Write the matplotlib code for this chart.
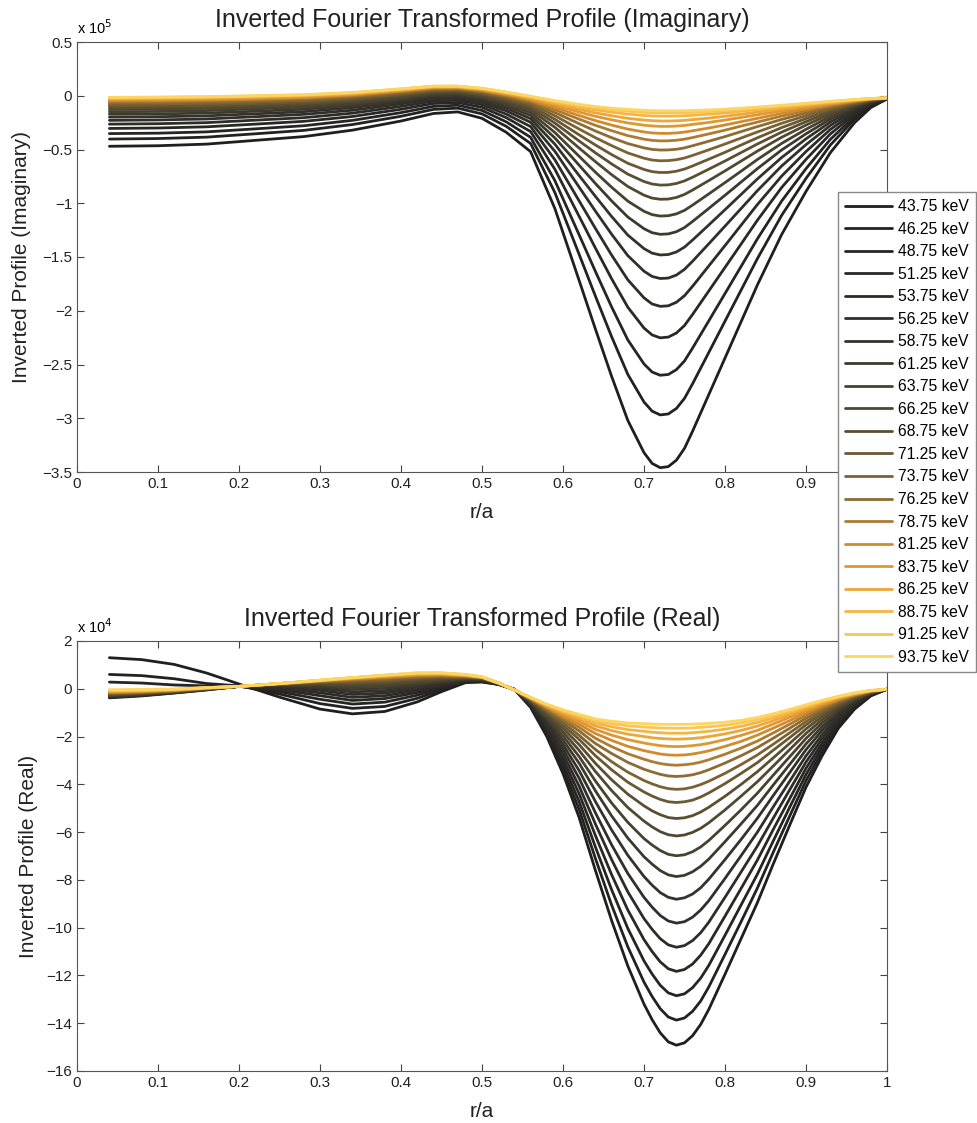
import numpy as np
import matplotlib
matplotlib.use("Agg")
import matplotlib.pyplot as plt
from matplotlib.colors import LinearSegmentedColormap

plt.rcParams['font.family'] = ['Liberation Sans', 'DejaVu Sans']

energy_labels = ["43.75 keV", "46.25 keV", "48.75 keV", "51.25 keV", "53.75 keV", "56.25 keV",
                 "58.75 keV", "61.25 keV", "63.75 keV", "66.25 keV", "68.75 keV", "71.25 keV",
                 "73.75 keV", "76.25 keV", "78.75 keV", "81.25 keV", "83.75 keV", "86.25 keV",
                 "88.75 keV", "91.25 keV", "93.75 keV"]

# ---------------- Imaginary part (units of 1e5) ----------------
r_imag = [0.04, 0.10, 0.16, 0.22, 0.28, 0.34, 0.40, 0.44, 0.47, 0.50, 0.53, 0.56, 0.59, 0.62,
          0.64, 0.66, 0.68, 0.70, 0.71, 0.72, 0.73, 0.74, 0.75, 0.76, 0.78, 0.80, 0.82, 0.84,
          0.87, 0.90, 0.93, 0.96, 0.98, 1.00]

imag_4375 = [-0.470, -0.465, -0.450, -0.415, -0.380, -0.320, -0.235, -0.165, -0.150, -0.210, -0.340, -0.520, -1.050, -1.720, -2.170, -2.610, -3.020, -3.320, -3.420, -3.460, -3.450, -3.390, -3.280, -3.120, -2.780, -2.440, -2.100, -1.760, -1.290, -0.890, -0.530, -0.250, -0.110, -0.030]
imag_4625 = [-0.403, -0.398, -0.385, -0.354, -0.322, -0.268, -0.191, -0.127, -0.115, -0.169, -0.285, -0.444, -0.901, -1.477, -1.864, -2.241, -2.592, -2.849, -2.934, -2.969, -2.960, -2.909, -2.815, -2.679, -2.388, -2.097, -1.806, -1.515, -1.112, -0.769, -0.459, -0.218, -0.097, -0.029]
imag_4875 = [-0.352, -0.348, -0.336, -0.308, -0.279, -0.229, -0.157, -0.099, -0.088, -0.137, -0.243, -0.387, -0.790, -1.295, -1.634, -1.964, -2.271, -2.495, -2.570, -2.600, -2.593, -2.548, -2.467, -2.347, -2.094, -1.840, -1.586, -1.331, -0.979, -0.678, -0.406, -0.194, -0.088, -0.027]
imag_5125 = [-0.304, -0.300, -0.289, -0.264, -0.238, -0.193, -0.126, -0.072, -0.063, -0.108, -0.204, -0.333, -0.684, -1.123, -1.417, -1.702, -1.967, -2.161, -2.225, -2.252, -2.245, -2.207, -2.137, -2.034, -1.816, -1.597, -1.378, -1.158, -0.853, -0.592, -0.356, -0.172, -0.079, -0.026]
imag_5375 = [-0.264, -0.260, -0.250, -0.227, -0.204, -0.162, -0.099, -0.050, -0.042, -0.083, -0.171, -0.287, -0.596, -0.979, -1.234, -1.482, -1.712, -1.880, -1.937, -1.959, -1.954, -1.921, -1.860, -1.772, -1.583, -1.394, -1.203, -1.012, -0.747, -0.519, -0.314, -0.153, -0.072, -0.026]
imag_5625 = [-0.229, -0.225, -0.216, -0.195, -0.173, -0.135, -0.076, -0.030, -0.023, -0.062, -0.141, -0.247, -0.517, -0.851, -1.073, -1.288, -1.487, -1.632, -1.681, -1.700, -1.696, -1.668, -1.615, -1.539, -1.377, -1.213, -1.048, -0.883, -0.653, -0.455, -0.277, -0.136, -0.065, -0.025]
imag_5875 = [-0.199, -0.195, -0.187, -0.168, -0.148, -0.111, -0.056, -0.013, -0.007, -0.043, -0.117, -0.213, -0.451, -0.743, -0.936, -1.123, -1.296, -1.422, -1.464, -1.481, -1.477, -1.453, -1.408, -1.342, -1.202, -1.060, -0.917, -0.774, -0.574, -0.401, -0.245, -0.122, -0.059, -0.024]
imag_6125 = [-0.172, -0.169, -0.161, -0.144, -0.125, -0.091, -0.039, 0.002, 0.007, -0.027, -0.095, -0.183, -0.393, -0.647, -0.816, -0.978, -1.128, -1.237, -1.274, -1.289, -1.285, -1.265, -1.226, -1.169, -1.048, -0.926, -0.802, -0.678, -0.504, -0.354, -0.217, -0.109, -0.054, -0.024]
imag_6375 = [-0.149, -0.146, -0.138, -0.122, -0.105, -0.073, -0.024, 0.015, 0.019, -0.013, -0.076, -0.157, -0.342, -0.564, -0.711, -0.851, -0.980, -1.075, -1.106, -1.119, -1.116, -1.099, -1.066, -1.017, -0.913, -0.808, -0.701, -0.593, -0.443, -0.312, -0.193, -0.098, -0.050, -0.023]
imag_6625 = [-0.128, -0.124, -0.118, -0.103, -0.087, -0.057, -0.009, 0.027, 0.031, 0.001, -0.058, -0.133, -0.294, -0.487, -0.613, -0.734, -0.844, -0.925, -0.952, -0.963, -0.961, -0.946, -0.918, -0.877, -0.789, -0.699, -0.607, -0.515, -0.386, -0.273, -0.171, -0.088, -0.046, -0.023]
imag_6875 = [-0.110, -0.106, -0.100, -0.086, -0.071, -0.043, 0.003, 0.037, 0.040, 0.012, -0.043, -0.112, -0.254, -0.421, -0.531, -0.634, -0.729, -0.798, -0.821, -0.831, -0.829, -0.816, -0.792, -0.758, -0.683, -0.607, -0.528, -0.449, -0.338, -0.241, -0.151, -0.080, -0.043, -0.022]
imag_7125 = [-0.094, -0.090, -0.085, -0.072, -0.058, -0.031, 0.013, 0.046, 0.049, 0.022, -0.030, -0.094, -0.219, -0.364, -0.458, -0.547, -0.628, -0.686, -0.706, -0.714, -0.713, -0.702, -0.682, -0.653, -0.590, -0.526, -0.458, -0.391, -0.296, -0.212, -0.135, -0.072, -0.040, -0.022]
imag_7375 = [-0.079, -0.075, -0.070, -0.058, -0.045, -0.019, 0.023, 0.054, 0.056, 0.031, -0.018, -0.077, -0.186, -0.310, -0.390, -0.464, -0.532, -0.581, -0.598, -0.605, -0.603, -0.595, -0.579, -0.555, -0.503, -0.449, -0.393, -0.337, -0.256, -0.185, -0.119, -0.065, -0.037, -0.021]
imag_7625 = [-0.065, -0.062, -0.057, -0.046, -0.033, -0.009, 0.032, 0.062, 0.064, 0.039, -0.006, -0.062, -0.156, -0.260, -0.328, -0.390, -0.445, -0.485, -0.499, -0.505, -0.504, -0.498, -0.485, -0.465, -0.423, -0.380, -0.333, -0.287, -0.220, -0.160, -0.105, -0.059, -0.034, -0.021]
imag_7875 = [-0.053, -0.050, -0.045, -0.035, -0.023, 0.001, 0.040, 0.069, 0.070, 0.046, 0.003, -0.048, -0.130, -0.218, -0.275, -0.325, -0.371, -0.404, -0.415, -0.420, -0.419, -0.414, -0.404, -0.389, -0.355, -0.320, -0.282, -0.245, -0.189, -0.139, -0.092, -0.053, -0.032, -0.021]
imag_8125 = [-0.044, -0.041, -0.036, -0.026, -0.015, 0.008, 0.046, 0.074, 0.075, 0.052, 0.011, -0.038, -0.109, -0.184, -0.231, -0.273, -0.310, -0.337, -0.346, -0.350, -0.350, -0.346, -0.338, -0.326, -0.300, -0.272, -0.241, -0.210, -0.164, -0.122, -0.082, -0.049, -0.030, -0.021]
imag_8375 = [-0.035, -0.032, -0.027, -0.018, -0.007, 0.015, 0.052, 0.079, 0.080, 0.058, 0.019, -0.028, -0.089, -0.152, -0.191, -0.224, -0.253, -0.274, -0.281, -0.285, -0.285, -0.282, -0.276, -0.267, -0.248, -0.226, -0.202, -0.177, -0.141, -0.106, -0.073, -0.044, -0.029, -0.020]
imag_8625 = [-0.028, -0.025, -0.021, -0.012, -0.001, 0.020, 0.056, 0.083, 0.083, 0.062, 0.024, -0.020, -0.074, -0.127, -0.159, -0.186, -0.210, -0.226, -0.232, -0.235, -0.235, -0.233, -0.229, -0.222, -0.208, -0.191, -0.172, -0.152, -0.122, -0.094, -0.066, -0.041, -0.027, -0.020]
imag_8875 = [-0.022, -0.019, -0.015, -0.006, 0.004, 0.025, 0.060, 0.086, 0.086, 0.066, 0.029, -0.013, -0.060, -0.105, -0.131, -0.153, -0.171, -0.183, -0.188, -0.190, -0.190, -0.189, -0.186, -0.182, -0.172, -0.160, -0.145, -0.130, -0.106, -0.082, -0.059, -0.038, -0.026, -0.020]
imag_9125 = [-0.018, -0.015, -0.011, -0.002, 0.008, 0.028, 0.063, 0.088, 0.089, 0.068, 0.033, -0.008, -0.051, -0.090, -0.112, -0.130, -0.144, -0.154, -0.158, -0.160, -0.160, -0.160, -0.158, -0.155, -0.148, -0.139, -0.127, -0.115, -0.095, -0.075, -0.055, -0.036, -0.026, -0.020]
imag_9375 = [-0.015, -0.012, -0.008, 0.000, 0.010, 0.030, 0.065, 0.090, 0.090, 0.070, 0.035, -0.005, -0.045, -0.080, -0.100, -0.115, -0.127, -0.135, -0.138, -0.140, -0.140, -0.140, -0.139, -0.137, -0.132, -0.125, -0.115, -0.105, -0.088, -0.070, -0.052, -0.035, -0.025, -0.020]

# ---------------- Real part (units of 1e4) ----------------
r_real = [0.04, 0.08, 0.12, 0.16, 0.20, 0.25, 0.30, 0.34, 0.38, 0.42, 0.45, 0.48, 0.50, 0.52,
          0.54, 0.56, 0.58, 0.60, 0.62, 0.64, 0.66, 0.68, 0.70, 0.71, 0.72, 0.73, 0.74, 0.75,
          0.76, 0.77, 0.78, 0.80, 0.82, 0.84, 0.86, 0.88, 0.90, 0.92, 0.94, 0.96, 0.98, 1.00]

real_4375 = [1.30, 1.22, 1.02, 0.66, 0.20, -0.35, -0.85, -1.05, -0.95, -0.55, -0.12, 0.26, 0.28, 0.18, -0.02, -0.78, -2.00, -3.55, -5.40, -7.60, -9.70, -11.60, -13.20, -13.85, -14.40, -14.78, -14.92, -14.82, -14.52, -14.05, -13.42, -11.95, -10.45, -8.95, -7.30, -5.70, -4.12, -2.80, -1.65, -0.85, -0.30, -0.02]
real_4625 = [0.60, 0.55, 0.42, 0.22, 0.12, -0.22, -0.62, -0.82, -0.74, -0.40, -0.04, 0.28, 0.30, 0.19, -0.02, -0.75, -1.89, -3.34, -5.06, -7.10, -9.05, -10.80, -12.28, -12.88, -13.39, -13.74, -13.87, -13.78, -13.50, -13.07, -12.48, -11.12, -9.74, -8.34, -6.81, -5.32, -3.85, -2.62, -1.55, -0.80, -0.28, -0.02]
real_4875 = [0.28, 0.24, 0.16, 0.12, 0.11, -0.12, -0.44, -0.64, -0.56, -0.27, 0.03, 0.30, 0.31, 0.19, -0.02, -0.72, -1.79, -3.14, -4.73, -6.62, -8.41, -10.03, -11.39, -11.94, -12.41, -12.73, -12.85, -12.77, -12.51, -12.11, -11.58, -10.32, -9.04, -7.76, -6.34, -4.95, -3.59, -2.44, -1.44, -0.75, -0.26, -0.02]
real_5125 = [-0.38, -0.30, -0.18, -0.05, 0.10, -0.04, -0.29, -0.49, -0.41, -0.16, 0.09, 0.32, 0.33, 0.20, -0.03, -0.68, -1.69, -2.94, -4.40, -6.14, -7.78, -9.26, -10.50, -11.00, -11.43, -11.72, -11.83, -11.75, -11.52, -11.15, -10.67, -9.52, -8.35, -7.17, -5.86, -4.59, -3.33, -2.27, -1.34, -0.69, -0.25, -0.02]
real_5375 = [-0.36, -0.28, -0.17, -0.04, 0.10, 0.02, -0.17, -0.36, -0.29, -0.07, 0.14, 0.34, 0.35, 0.20, -0.03, -0.65, -1.58, -2.73, -4.08, -5.66, -7.15, -8.50, -9.62, -10.07, -10.46, -10.72, -10.82, -10.75, -10.54, -10.21, -9.77, -8.73, -7.66, -6.58, -5.39, -4.22, -3.07, -2.09, -1.24, -0.64, -0.23, -0.02]
real_5625 = [-0.34, -0.27, -0.16, -0.03, 0.10, 0.07, -0.07, -0.24, -0.18, 0.01, 0.19, 0.36, 0.36, 0.21, -0.03, -0.62, -1.48, -2.53, -3.75, -5.19, -6.53, -7.73, -8.73, -9.14, -9.49, -9.72, -9.81, -9.75, -9.56, -9.26, -8.87, -7.94, -6.98, -6.00, -4.92, -3.86, -2.81, -1.92, -1.14, -0.59, -0.21, -0.02]
real_5875 = [-0.32, -0.25, -0.15, -0.02, 0.10, 0.11, 0.02, -0.13, -0.08, 0.09, 0.24, 0.38, 0.38, 0.21, -0.03, -0.59, -1.38, -2.34, -3.43, -4.72, -5.91, -6.97, -7.86, -8.22, -8.53, -8.73, -8.81, -8.75, -8.59, -8.33, -7.97, -7.15, -6.30, -5.42, -4.45, -3.50, -2.55, -1.74, -1.04, -0.54, -0.20, -0.02]
real_6125 = [-0.30, -0.23, -0.14, -0.02, 0.10, 0.14, 0.09, -0.03, 0.02, 0.16, 0.29, 0.40, 0.40, 0.22, -0.04, -0.56, -1.28, -2.15, -3.12, -4.27, -5.32, -6.25, -7.03, -7.34, -7.61, -7.79, -7.86, -7.81, -7.66, -7.43, -7.13, -6.40, -5.65, -4.88, -4.01, -3.16, -2.31, -1.58, -0.95, -0.49, -0.18, -0.02]
real_6375 = [-0.28, -0.22, -0.13, -0.01, 0.10, 0.16, 0.15, 0.06, 0.11, 0.23, 0.34, 0.42, 0.41, 0.22, -0.04, -0.53, -1.20, -1.97, -2.84, -3.86, -4.78, -5.59, -6.27, -6.54, -6.77, -6.93, -6.99, -6.95, -6.82, -6.62, -6.35, -5.72, -5.06, -4.37, -3.60, -2.84, -2.08, -1.43, -0.86, -0.45, -0.16, -0.02]
real_6625 = [-0.26, -0.20, -0.12, 0.00, 0.10, 0.18, 0.20, 0.14, 0.19, 0.30, 0.39, 0.44, 0.42, 0.23, -0.04, -0.51, -1.11, -1.81, -2.58, -3.46, -4.26, -4.97, -5.54, -5.78, -5.98, -6.11, -6.16, -6.12, -6.01, -5.84, -5.61, -5.07, -4.49, -3.89, -3.22, -2.54, -1.87, -1.29, -0.78, -0.41, -0.15, -0.02]
real_6875 = [-0.24, -0.19, -0.11, 0.00, 0.10, 0.19, 0.24, 0.21, 0.26, 0.36, 0.43, 0.46, 0.44, 0.23, -0.04, -0.48, -1.04, -1.66, -2.34, -3.12, -3.81, -4.41, -4.90, -5.11, -5.27, -5.39, -5.43, -5.40, -5.31, -5.16, -4.96, -4.50, -4.00, -3.47, -2.88, -2.28, -1.68, -1.16, -0.70, -0.37, -0.14, -0.02]
real_7125 = [-0.22, -0.17, -0.10, 0.01, 0.10, 0.20, 0.27, 0.27, 0.32, 0.41, 0.47, 0.48, 0.45, 0.23, -0.04, -0.46, -0.97, -1.53, -2.12, -2.80, -3.39, -3.91, -4.32, -4.49, -4.63, -4.73, -4.76, -4.73, -4.66, -4.53, -4.36, -3.97, -3.54, -3.09, -2.56, -2.04, -1.51, -1.04, -0.64, -0.34, -0.13, -0.02]
real_7375 = [-0.20, -0.16, -0.09, 0.01, 0.10, 0.20, 0.29, 0.32, 0.37, 0.46, 0.50, 0.50, 0.46, 0.24, -0.04, -0.45, -0.92, -1.42, -1.95, -2.54, -3.05, -3.49, -3.84, -3.98, -4.10, -4.18, -4.21, -4.19, -4.12, -4.01, -3.87, -3.54, -3.17, -2.77, -2.31, -1.84, -1.37, -0.95, -0.58, -0.31, -0.12, -0.02]
real_7625 = [-0.18, -0.14, -0.08, 0.02, 0.10, 0.21, 0.31, 0.36, 0.42, 0.50, 0.53, 0.52, 0.46, 0.24, -0.05, -0.43, -0.86, -1.31, -1.77, -2.29, -2.71, -3.08, -3.37, -3.48, -3.58, -3.65, -3.67, -3.65, -3.60, -3.51, -3.39, -3.11, -2.80, -2.46, -2.06, -1.65, -1.23, -0.86, -0.53, -0.28, -0.11, -0.02]
real_7875 = [-0.16, -0.13, -0.07, 0.02, 0.10, 0.21, 0.32, 0.39, 0.46, 0.54, 0.56, 0.53, 0.47, 0.24, -0.05, -0.41, -0.81, -1.22, -1.62, -2.07, -2.42, -2.72, -2.95, -3.05, -3.13, -3.18, -3.20, -3.18, -3.14, -3.07, -2.97, -2.74, -2.48, -2.19, -1.84, -1.48, -1.11, -0.78, -0.48, -0.26, -0.10, -0.02]
real_8125 = [-0.14, -0.11, -0.06, 0.03, 0.10, 0.22, 0.33, 0.42, 0.49, 0.57, 0.59, 0.55, 0.48, 0.24, -0.05, -0.40, -0.77, -1.14, -1.49, -1.87, -2.16, -2.41, -2.59, -2.66, -2.73, -2.77, -2.78, -2.77, -2.73, -2.67, -2.60, -2.41, -2.20, -1.94, -1.64, -1.33, -1.00, -0.70, -0.44, -0.24, -0.09, -0.02]
real_8375 = [-0.12, -0.10, -0.05, 0.03, 0.10, 0.22, 0.34, 0.44, 0.52, 0.60, 0.61, 0.56, 0.48, 0.25, -0.05, -0.39, -0.73, -1.06, -1.37, -1.70, -1.94, -2.13, -2.27, -2.33, -2.38, -2.41, -2.42, -2.41, -2.38, -2.34, -2.28, -2.13, -1.95, -1.74, -1.47, -1.19, -0.91, -0.64, -0.40, -0.22, -0.09, -0.02]
real_8625 = [-0.10, -0.08, -0.04, 0.04, 0.10, 0.22, 0.35, 0.45, 0.54, 0.62, 0.63, 0.57, 0.49, 0.25, -0.05, -0.38, -0.70, -1.00, -1.27, -1.55, -1.75, -1.90, -2.00, -2.05, -2.08, -2.10, -2.11, -2.10, -2.08, -2.05, -2.00, -1.89, -1.74, -1.56, -1.33, -1.08, -0.83, -0.59, -0.37, -0.20, -0.08, -0.02]
real_8875 = [-0.08, -0.06, -0.03, 0.04, 0.10, 0.22, 0.35, 0.46, 0.56, 0.64, 0.65, 0.58, 0.49, 0.25, -0.05, -0.37, -0.68, -0.95, -1.19, -1.43, -1.59, -1.71, -1.78, -1.82, -1.84, -1.86, -1.86, -1.86, -1.84, -1.81, -1.78, -1.69, -1.57, -1.41, -1.21, -0.99, -0.77, -0.54, -0.35, -0.19, -0.08, -0.02]
real_9125 = [-0.06, -0.05, -0.02, 0.05, 0.10, 0.22, 0.36, 0.47, 0.57, 0.66, 0.66, 0.59, 0.50, 0.25, -0.05, -0.37, -0.66, -0.91, -1.12, -1.34, -1.46, -1.55, -1.60, -1.62, -1.64, -1.65, -1.65, -1.65, -1.64, -1.61, -1.59, -1.53, -1.43, -1.29, -1.11, -0.92, -0.71, -0.51, -0.33, -0.18, -0.07, -0.02]
real_9375 = [-0.04, -0.03, -0.01, 0.05, 0.10, 0.22, 0.36, 0.47, 0.57, 0.67, 0.67, 0.60, 0.50, 0.25, -0.05, -0.36, -0.64, -0.88, -1.07, -1.26, -1.36, -1.43, -1.46, -1.475, -1.485, -1.49, -1.49, -1.487, -1.48, -1.465, -1.45, -1.40, -1.32, -1.20, -1.04, -0.86, -0.67, -0.48, -0.31, -0.17, -0.07, -0.02]

imag_curves = [imag_4375, imag_4625, imag_4875, imag_5125, imag_5375, imag_5625, imag_5875,
               imag_6125, imag_6375, imag_6625, imag_6875, imag_7125, imag_7375, imag_7625,
               imag_7875, imag_8125, imag_8375, imag_8625, imag_8875, imag_9125, imag_9375]
real_curves = [real_4375, real_4625, real_4875, real_5125, real_5375, real_5625, real_5875,
               real_6125, real_6375, real_6625, real_6875, real_7125, real_7375, real_7625,
               real_7875, real_8125, real_8375, real_8625, real_8875, real_9125, real_9375]

# ---------------- style ----------------
cmap = LinearSegmentedColormap.from_list(
    "warm", [(0.0, "#1f1f1f"), (0.3, "#34322b"), (0.5, "#5a4f33"), (0.65, "#8a6c34"),
             (0.75, "#d08a2c"), (0.88, "#f4ae3e"), (1.0, "#fcd660")])
colors = [cmap(i / 20) for i in range(21)]

fig = plt.figure(figsize=(9.78, 11.23), dpi=100)
ax1 = fig.add_axes([77 / 978, 1 - 472 / 1123, 810 / 978, 430 / 1123])
ax2 = fig.add_axes([77 / 978, 1 - 1071 / 1123, 810 / 978, 430 / 1123])

lines = []
for i, y in enumerate(imag_curves):
    ln, = ax1.plot(r_imag, y, color=colors[i], lw=2.0, label=energy_labels[i],
                   solid_joinstyle="round", solid_capstyle="round")
    lines.append(ln)
for i, y in enumerate(real_curves):
    ax2.plot(r_real, y, color=colors[i], lw=2.0, solid_joinstyle="round", solid_capstyle="round")

xtick_labels = ["0", "0.1", "0.2", "0.3", "0.4", "0.5", "0.6", "0.7", "0.8", "0.9", "1"]
for ax in (ax1, ax2):
    ax.set_xlim(0, 1)
    ax.set_xticks(np.linspace(0, 1, 11))
    ax.set_xticklabels(xtick_labels)
    ax.tick_params(direction="in", top=True, right=True, length=5, width=0.8,
                   labelsize=11, colors="#444444", labelcolor="#222222")
    for s in ax.spines.values():
        s.set_color("#555555")
        s.set_linewidth(0.8)
    ax.set_xlabel("r/a", fontsize=15, color="#222222", labelpad=9)

ax1.set_ylim(-3.5, 0.5)
ax1.set_yticks(np.linspace(-3.5, 0.5, 9))
ax1.set_yticklabels(["\u22123.5", "\u22123", "\u22122.5", "\u22122", "\u22121.5", "\u22121",
                     "\u22120.5", "0", "0.5"])
ax1.set_ylabel("Inverted Profile (Imaginary)", fontsize=15, color="#222222", labelpad=8)
ax1.set_title("Inverted Fourier Transformed Profile (Imaginary)", fontsize=18, color="#222222", pad=11)
ax1.text(0.0, 1.012, r"x 10$^5$", transform=ax1.transAxes, fontsize=10.5, ha="left", va="bottom")

ax2.set_ylim(-16, 2)
ax2.set_yticks(np.linspace(-16, 2, 10))
ax2.set_yticklabels(["\u221216", "\u221214", "\u221212", "\u221210", "\u22128", "\u22126",
                     "\u22124", "\u22122", "0", "2"])
ax2.set_ylabel("Inverted Profile (Real)", fontsize=15, color="#222222", labelpad=6)
ax2.set_title("Inverted Fourier Transformed Profile (Real)", fontsize=18, color="#222222", pad=11)
ax2.text(0.0, 1.012, r"x 10$^4$", transform=ax2.transAxes, fontsize=10.5, ha="left", va="bottom")

leg = fig.legend(handles=lines, loc="upper left", bbox_to_anchor=(838 / 978, 1 - 192 / 1123),
                 fontsize=11.3, frameon=True, fancybox=False, framealpha=1, edgecolor="#888888",
                 handlelength=3.0, handletextpad=0.4, labelspacing=0.48, borderpad=0.45,
                 borderaxespad=0)
leg.get_frame().set_linewidth(1.0)

fig.savefig("out.png", dpi=100)
